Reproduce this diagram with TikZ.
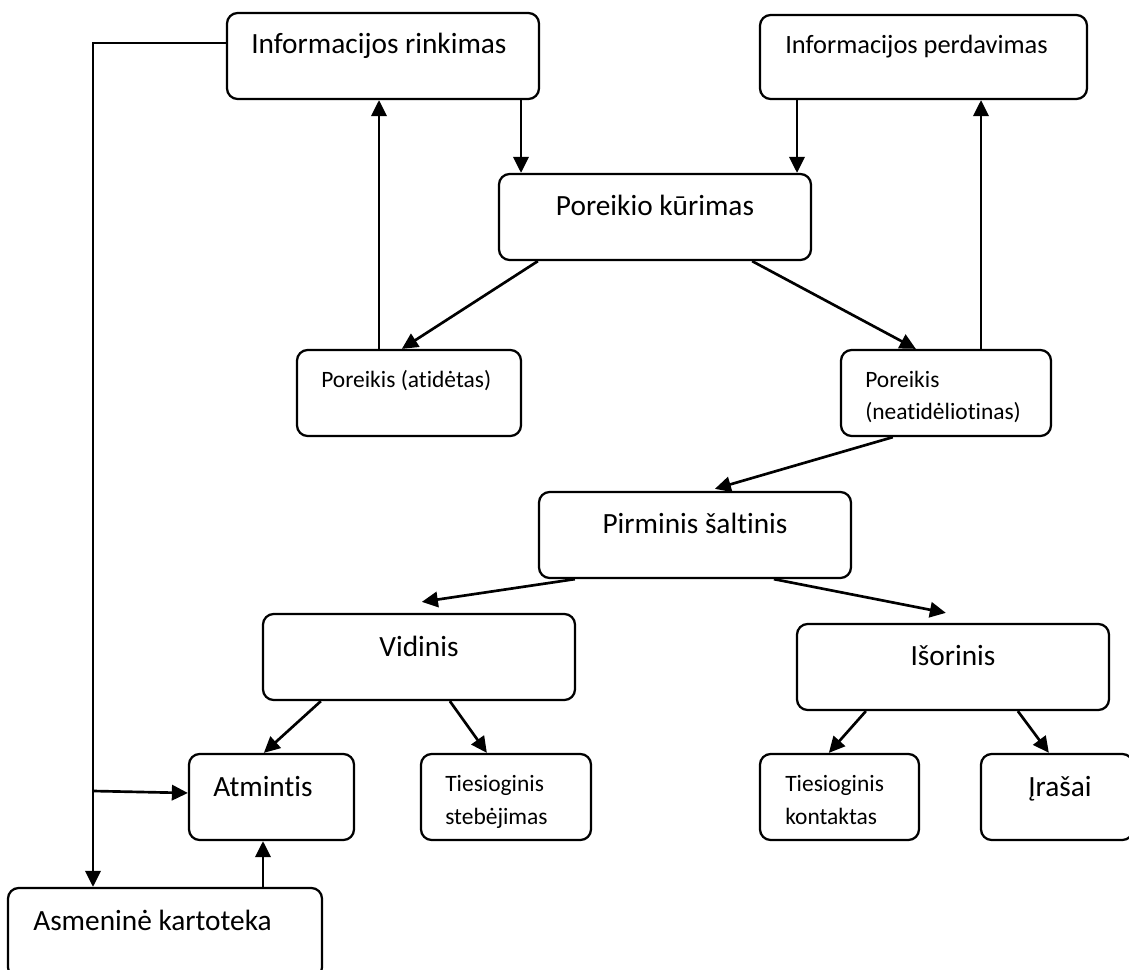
\documentclass[tikz,border=0pt]{standalone}
\usepackage{fontspec}
\setmainfont{Carlito}[RawFeature={-liga;-clig;-dlig;-calt}]
\usetikzlibrary{fit,calc,arrows.meta}
\tikzset{
  box/.style={draw=black, line width=1.7pt, rounded corners=8pt, inner sep=0pt, fill=white},
  arr/.style={line width=2pt, -{Triangle[length=12pt,width=11.5pt]}},
  big/.style={font=\fontsize{22}{26}\selectfont, inner sep=0pt},
  mid/.style={font=\fontsize{19.8}{24}\selectfont, inner sep=0pt},
  sml/.style={font=\fontsize{17.6}{22}\selectfont, inner sep=0pt},
}
\begin{document}
\begin{tikzpicture}[x=0.75pt,y=-0.75pt]
\useasboundingbox[fill=white] (0,0) rectangle (1129,970);
% boxes
\node[box, fit={(227,13)(539,99)}] (rin) {};
\node[box, fit={(760,15)(1087,99)}] (per) {};
\node[box, fit={(499,174)(811,260)}] (kur) {};
\node[box, fit={(297,350)(521,436)}] (ati) {};
\node[box, fit={(841,350)(1051,436)}] (nea) {};
\node[box, fit={(539,492)(851,578)}] (pir) {};
\node[box, fit={(263,614)(575,700)}] (vid) {};
\node[box, fit={(797,624)(1109,710)}] (iso) {};
\node[box, fit={(189,754)(354,840)}] (atm) {};
\node[box, fit={(421,754)(591,840)}] (ste) {};
\node[box, fit={(760,754)(919,840)}] (kon) {};
\node[box, fit={(981,754)(1133,840)}] (ira) {};
\node[box, fit={(8,888)(322,978)}] (asm) {};
% texts
\node[big, anchor=base west] (rinT) at (251,54) {Informacijos rinkimas};
\node[mid, anchor=base west] (perT) at (785,54) {Informacijos perdavimas};
\node[big, anchor=base] (kurT) at (655,216) {Poreikio kūrimas};
\node[sml, anchor=base west] (atiT) at (321,387) {Poreikis (atidėtas)};
\node[sml, anchor=base west] (neaT1) at (865,387) {Poreikis};
\node[sml, anchor=base west] (neaT2) at (865,419) {(neatidėliotinas)};
\node[big, anchor=base] (pirT) at (695,533) {Pirminis šaltinis};
\node[big, anchor=base] (vidT) at (419,656) {Vidinis};
\node[big, anchor=base] (isoT) at (953,665) {Išorinis};
\node[big, anchor=base west] (atmT) at (213,796) {Atmintis};
\node[sml, anchor=base west] (steT1) at (445,791) {Tiesioginis};
\node[sml, anchor=base west] (steT2) at (445,824) {stebėjimas};
\node[sml, anchor=base west] (konT1) at (785,791) {Tiesioginis};
\node[sml, anchor=base west] (konT2) at (785,824) {kontaktas};
\node[big, anchor=base west] (iraT) at (1028,796) {Įrašai};
\node[big, anchor=base west] (asmT) at (33,930) {Asmeninė kartoteka};
% helper x positions for vertical connectors
\coordinate (c1) at (93,43);
\coordinate (c2) at (93,791);
\coordinate (xa) at (521,0);
\coordinate (xb) at (379,0);
\coordinate (xc) at (797,0);
\coordinate (xd) at (981,0);
\coordinate (xe) at (263,0);
% left feedback line
\draw[arr] (rin.west |- c1) -- (c1) -- (asm.north -| c1);
\draw[arr] (c2) -- ($(atm.west)+(0,-4)$);
\draw[arr] (asm.north -| xe) -- (atm.south -| xe);
% top connectors
\draw[arr] (rin.south -| xa) -- (kur.north -| xa);
\draw[arr] (ati.north -| xb) -- (rin.south -| xb);
\draw[arr] (per.south -| xc) -- (kur.north -| xc);
\draw[arr] (nea.north -| xd) -- (per.south -| xd);
\draw[arr] ($(kur.south west)+(40,0)$) -- ($(ati.north west)+(106,0)$);
\draw[arr] ($(kur.south east)+(-60,0)$) -- ($(nea.north west)+(76,0)$);
\draw[arr] ($(nea.south west)+(53,0)$) -- ($(pir.north west)+(177,-2)$);
\draw[arr] ($(pir.south west)+(37,0)$) -- ($(vid.north west)+(160,-11)$);
\draw[arr] ($(pir.south west)+(236,0)$) -- ($(iso.north west)+(150,-10)$);
\draw[arr] ($(vid.south west)+(59,0)$) -- ($(atm.north west)+(76,0)$);
\draw[arr] ($(vid.south west)+(188,0)$) -- ($(ste.north west)+(67,0)$);
\draw[arr] ($(iso.south west)+(70,0)$) -- ($(kon.north west)+(70,0)$);
\draw[arr] ($(iso.south west)+(222,0)$) -- ($(ira.north west)+(69,0)$);
\end{tikzpicture}
\end{document}
